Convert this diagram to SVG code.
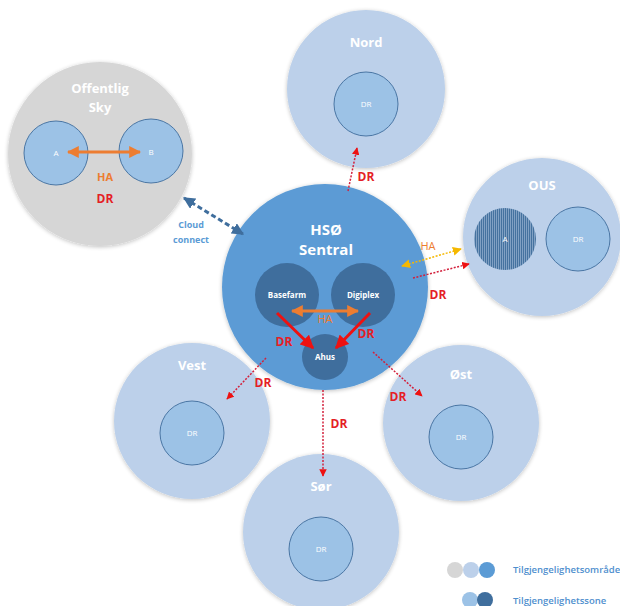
<svg xmlns="http://www.w3.org/2000/svg" width="620" height="606" viewBox="0 0 620 606">
<defs>
<style>
.region{fill:#bcd0ea;}
.gray{fill:#d6d6d6;}
.inner{fill:#9cc2e6;stroke:#4a76a4;stroke-width:1;}
.dark{fill:#3f6e9d;}
.main{fill:#5b9bd5;}
.title{font-family:"Open Sans","Liberation Sans",sans-serif;font-weight:bold;fill:#ffffff;text-anchor:middle;}
.small{font-family:"Open Sans","Liberation Sans",sans-serif;font-size:8px;fill:#ffffff;text-anchor:middle;}
.dr{font-family:"Open Sans","Liberation Sans",sans-serif;font-weight:bold;font-size:12px;fill:#e41e26;text-anchor:middle;}
.ha{font-family:"Open Sans","Liberation Sans",sans-serif;font-size:11px;fill:#ed7d31;text-anchor:middle;}
.legend{font-family:"Open Sans","Liberation Sans",sans-serif;font-size:9.5px;font-weight:600;fill:#4f8fce;}
.drline{stroke:#d3203c;stroke-width:1.5;stroke-dasharray:2 1.5;fill:none;}
</style>
<marker id="redHead" viewBox="0 0 10 10" refX="9" refY="5" markerWidth="5" markerHeight="5" orient="auto-start-reverse"><path d="M0,0 L10,5 L0,10 z" fill="#ee1111"/></marker>
<marker id="redHeadBig" viewBox="0 0 10 10" refX="9" refY="5" markerWidth="4.5" markerHeight="4.5" orient="auto-start-reverse"><path d="M0,0 L10,5 L0,10 z" fill="#ee1111"/></marker>
<marker id="orangeHead" viewBox="0 0 10 10" refX="9" refY="5" markerWidth="4" markerHeight="4" orient="auto-start-reverse"><path d="M0,0 L10,5 L0,10 z" fill="#ed7d31"/></marker>
<marker id="yellowHead" viewBox="0 0 10 10" refX="9" refY="5" markerWidth="6" markerHeight="6" orient="auto-start-reverse"><path d="M0,0 L10,5 L0,10 z" fill="#f5b800"/></marker>
<marker id="blueHead" viewBox="0 0 10 10" refX="9" refY="5" markerWidth="4" markerHeight="4" orient="auto-start-reverse"><path d="M0,0 L10,5 L0,10 z" fill="#3f6e9d"/></marker>
<pattern id="hatch" width="2" height="2" patternUnits="userSpaceOnUse">
<rect width="2" height="2" fill="#45729f"/>
<line x1="0.5" y1="0" x2="0.5" y2="2" stroke="#a9c1de" stroke-width="0.6"/>
</pattern>
<filter id="glow" x="-10%" y="-10%" width="120%" height="120%">
<feGaussianBlur in="SourceAlpha" stdDeviation="2"/>
<feOffset dx="0" dy="1"/>
<feComponentTransfer><feFuncA type="linear" slope="0.25"/></feComponentTransfer>
<feMerge><feMergeNode/><feMergeNode in="SourceGraphic"/></feMerge>
</filter>
</defs>

<g id="offentlig-sky">
<circle class="gray" cx="100" cy="154" r="92" filter="url(#glow)"/>
<text class="title" x="100" y="93" font-size="13">Offentlig</text>
<text class="title" x="100" y="112" font-size="13">Sky</text>
<circle class="inner" cx="56" cy="153" r="32"/>
<circle class="inner" cx="151" cy="151" r="32"/>
<text class="small" x="56" y="156">A</text>
<text class="small" x="151" y="155">B</text>
<text class="ha" x="105" y="181" font-weight="bold">HA</text>
<text class="dr" x="105" y="203">DR</text>
</g>

<g id="nord">
<circle class="region" cx="366" cy="89" r="79" filter="url(#glow)"/>
<text class="title" x="366" y="47" font-size="13">Nord</text>
<circle class="inner" cx="366" cy="104" r="32"/>
<text class="small" x="366" y="107">DR</text>
</g>

<g id="ous">
<circle class="region" cx="542" cy="237" r="79" filter="url(#glow)"/>
<text class="title" x="542" y="190" font-size="13">OUS</text>
<circle cx="505" cy="239" r="31" fill="url(#hatch)"/>
<text class="small" x="505" y="242">A</text>
<circle class="inner" cx="578" cy="239" r="32"/>
<text class="small" x="578" y="242">DR</text>
</g>

<g id="vest">
<circle class="region" cx="192" cy="421" r="78" filter="url(#glow)"/>
<text class="title" x="192" y="370" font-size="13">Vest</text>
<circle class="inner" cx="192" cy="433" r="32"/>
<text class="small" x="192" y="436">DR</text>
</g>

<g id="ost">
<circle class="region" cx="461" cy="423" r="78" filter="url(#glow)"/>
<text class="title" x="461" y="379" font-size="13">Øst</text>
<circle class="inner" cx="461" cy="437" r="32"/>
<text class="small" x="461" y="440">DR</text>
</g>

<g id="sor">
<circle class="region" cx="321" cy="532" r="78" filter="url(#glow)"/>
<text class="title" x="321" y="491" font-size="13">Sør</text>
<circle class="inner" cx="321" cy="549" r="32"/>
<text class="small" x="321" y="552">DR</text>
</g>

<g id="hso-sentral">
<circle class="main" cx="325" cy="287" r="103" filter="url(#glow)"/>
<text class="title" x="326" y="235" font-size="15">HSØ</text>
<text class="title" x="326" y="255" font-size="15">Sentral</text>
<circle class="dark" cx="287" cy="295" r="32"/>
<text class="small" x="287" y="298" font-weight="bold">Basefarm</text>
<circle class="dark" cx="363" cy="295" r="32"/>
<text class="small" x="363" y="298" font-weight="bold">Digiplex</text>
<circle class="dark" cx="325" cy="357" r="23"/>
<text class="small" x="325" y="360" font-weight="bold">Ahus</text>
</g>

<g id="legend">
<circle cx="455" cy="570" r="8" fill="#d6d6d6"/>
<circle cx="471" cy="570" r="8" fill="#bcd0ea"/>
<circle cx="487" cy="570" r="8" fill="#5b9bd5"/>
<text class="legend" x="513" y="573">Tilgjengelighetsområde</text>
<circle cx="470" cy="600" r="8" fill="#9cc2e6"/>
<circle cx="485" cy="600" r="8" fill="#3f6e9d"/>
<text class="legend" x="513" y="604">Tilgjengelighetssone</text>
</g>

<g id="connectors">
<line x1="68" y1="152" x2="140" y2="152" stroke="#ed7d31" stroke-width="3" marker-start="url(#orangeHead)" marker-end="url(#orangeHead)"/>
<line x1="184" y1="198" x2="243" y2="234" stroke="#3f6e9d" stroke-width="3" stroke-dasharray="5 3" marker-start="url(#blueHead)" marker-end="url(#blueHead)"/>
<text x="191" y="228" font-family="'Open Sans','Liberation Sans',sans-serif" font-size="9" font-weight="bold" fill="#5b9bd5" text-anchor="middle">Cloud</text>
<text x="191" y="243" font-family="'Open Sans','Liberation Sans',sans-serif" font-size="9" font-weight="bold" fill="#5b9bd5" text-anchor="middle">connect</text>

<line x1="292" y1="311" x2="358" y2="311" stroke="#ed7d31" stroke-width="3" marker-start="url(#orangeHead)" marker-end="url(#orangeHead)"/>
<text class="ha" x="325" y="323">HA</text>
<line x1="277" y1="313" x2="313" y2="348" stroke="#ee1111" stroke-width="3" marker-end="url(#redHeadBig)"/>
<line x1="370" y1="313" x2="336" y2="348" stroke="#ee1111" stroke-width="3" marker-end="url(#redHeadBig)"/>
<text class="dr" x="284" y="346">DR</text>
<text class="dr" x="366" y="338">DR</text>

<line class="drline" x1="348" y1="191" x2="357" y2="148" marker-end="url(#redHead)"/>
<text class="dr" x="366" y="181">DR</text>

<line x1="402" y1="266" x2="461" y2="249" stroke="#f5b800" stroke-width="1.5" stroke-dasharray="2 1.5" marker-start="url(#yellowHead)" marker-end="url(#yellowHead)"/>
<text class="ha" x="428" y="250">HA</text>
<line class="drline" x1="413" y1="278" x2="469" y2="264" marker-end="url(#redHead)"/>
<text class="dr" x="438" y="299">DR</text>

<line class="drline" x1="266" y1="358" x2="227" y2="399" marker-end="url(#redHead)"/>
<text class="dr" x="263" y="387">DR</text>

<line class="drline" x1="373" y1="352" x2="422" y2="396" marker-end="url(#redHead)"/>
<text class="dr" x="398" y="401">DR</text>

<line class="drline" x1="323" y1="390" x2="323" y2="476" marker-end="url(#redHead)"/>
<text class="dr" x="339" y="428">DR</text>
</g>
</svg>
